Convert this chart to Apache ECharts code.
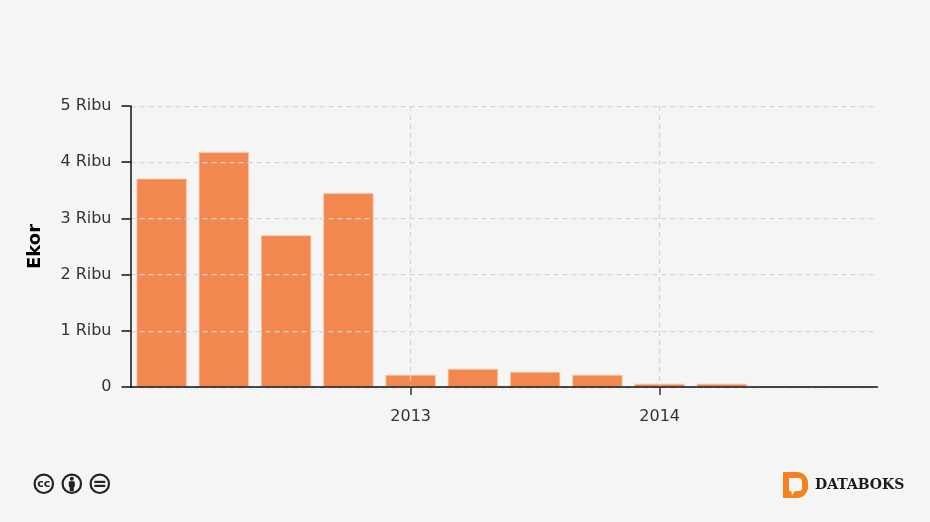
<!DOCTYPE html>
<html><head><meta charset="utf-8">
<style>html,body{margin:0;padding:0;background:#f5f5f5}#c{width:930px;height:522px}</style>
<script src="https://cdn.jsdelivr.net/npm/echarts@6/dist/echarts.min.js"></script>
</head><body><div id="c"></div>
<script>
const categories = ['2012 Q1','2012 Q2','2012 Q3','2012 Q4','2013','2013 Q2','2013 Q3','2013 Q4','2014','2014 Q2','2014 Q3','2014 Q4'];
const values = [3710,4180,2700,3450,220,325,270,220,60,60,0,0];
const yTicks = {max:5000, interval:1000};
const yTitle = 'Ekor';
const isYear = (i,v) => /^\d{4}$/.test(v);
const font = '"DejaVu Sans"';
const chart = echarts.init(document.getElementById('c'),null,{renderer:'canvas'});
chart.setOption({
  animation:false,
  backgroundColor:'#f5f5f5',
  grid:{left:130.5,right:52.5,top:106,bottom:135,containLabel:false},
  xAxis:{type:'category',data:categories,z:5,
    axisLine:{lineStyle:{color:'#111',width:1.5}},
    axisTick:{show:true,alignWithLabel:true,interval:isYear,length:8,lineStyle:{color:'#333',width:1.5}},
    axisLabel:{interval:isYear,formatter:v=>v,color:'#333',fontFamily:font,fontSize:16,margin:22},
    splitLine:{show:true,alignWithLabel:true,interval:isYear,lineStyle:{color:'#d4d4d4',type:[5,4],width:1.25}}},
  yAxis:{type:'value',min:0,max:yTicks.max,interval:yTicks.interval,z:5,
    name:yTitle,nameLocation:'middle',nameGap:86,nameRotate:90,
    nameTextStyle:{fontFamily:font,fontSize:18,fontWeight:'bold',color:'#000'},
    axisLine:{show:true,lineStyle:{color:'#111',width:1.5}},
    axisTick:{show:true,length:9,lineStyle:{color:'#111',width:1.5}},
    axisLabel:{formatter:v=>v===0?'0':(v/1000)+' Ribu',color:'#333',fontFamily:font,fontSize:16,margin:19,padding:[4,0,0,0]},
    splitLine:{show:true,lineStyle:{color:'#d4d4d4',type:[5,4],width:1.25}}},
  series:[{type:'bar',data:values,barWidth:50.5,z:1,
    itemStyle:{color:'rgba(241,121,56,0.88)',borderColor:'rgba(250,200,170,0.8)',borderWidth:1}}],
  graphic:[
    {type:'group',left:33.5,top:473.5,children:[
      ...[0,28,56].map(x=>({type:'circle',shape:{cx:x+10.5,cy:10.5,r:9.2},style:{fill:'#f5f5f5',stroke:'#222',lineWidth:2.2}})),
      {type:'text',style:{x:10.5,y:10.5,text:'cc',align:'center',verticalAlign:'middle',fill:'#222',font:'bold 11px "DejaVu Sans"'}},
      {type:'circle',shape:{cx:38.5,cy:5.5,r:2},style:{fill:'#222'}},
      {type:'rect',shape:{x:35.5,y:8,width:6,height:6,r:1},style:{fill:'#222'}},
      {type:'rect',shape:{x:36.5,y:12,width:4,height:6},style:{fill:'#222'}},
      {type:'rect',shape:{x:61,y:7.5,width:11,height:2.2},style:{fill:'#222'}},
      {type:'rect',shape:{x:61,y:11.5,width:11,height:2.2},style:{fill:'#222'}}
    ]},
    {type:'group',left:783,top:472,children:[
      {type:'rect',shape:{x:0,y:0,width:25,height:26,r:[0,11,11,0]},style:{fill:'#f58220'}},
      {type:'rect',shape:{x:6,y:6,width:13,height:13,r:[0,3,3,0]},style:{fill:'#f5f5f5'}},
      {type:'polygon',shape:{points:[[8,18],[13,18],[9,23]]},style:{fill:'#f5f5f5'}}
    ]},
    {type:'text',left:815,top:478,style:{text:'DATABOKS',fill:'#1a1a1a',font:'bold 14px "DejaVu Serif"'}}
  ]
});
</script></body></html>
